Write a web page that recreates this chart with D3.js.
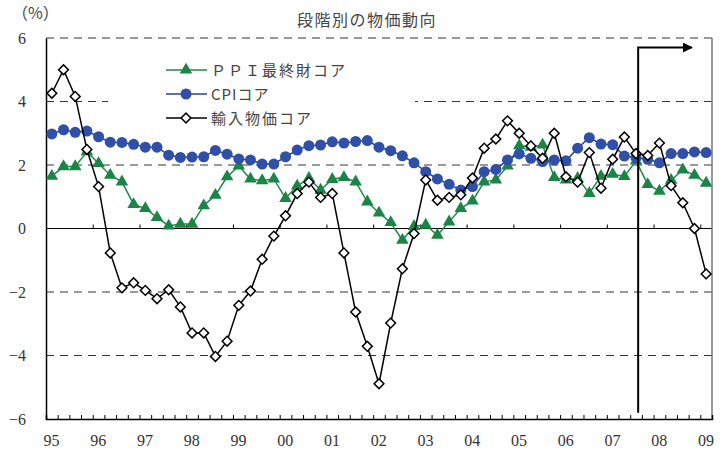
<!DOCTYPE html>
<html lang="ja">
<head>
<meta charset="UTF-8">
<title>段階別の物価動向</title>
<script src="https://d3js.org/d3.v7.min.js"></script>
<style>
  body { margin: 0; background: #fff; }
  .num { font-family: "Liberation Serif", "DejaVu Serif", serif; font-size: 16px; fill: #333; }
  .jp { font-family: "Noto Sans CJK JP", sans-serif; fill: #444; }
</style>
</head>
<body>
<div id="chart"></div>
<script>
// 四半期データ 1995Q1 - 2009Q1 (前年比, %)
const startYear = 1995;
const ppiCore = [1.65, 1.95, 1.95, 2.42, 2.05, 1.68, 1.47, 0.76, 0.63, 0.35,
                 0.08, 0.14, 0.14, 0.72, 1.05, 1.63, 1.97, 1.56, 1.51, 1.56,
                 0.95, 1.34, 1.58, 1.21, 1.55, 1.61, 1.47, 0.84, 0.49, 0.19,
                 -0.37, 0.07, 0.11, -0.21, 0.21, 0.63, 0.87, 1.47, 1.53, 1.97,
                 2.61, 2.56, 2.63, 1.61, 1.53, 1.58, 1.11, 1.65, 1.71, 1.64,
                 2.13, 1.39, 1.18, 1.52, 1.85, 1.68, 1.43];
const cpiCore = [2.98, 3.11, 3.03, 3.07, 2.89, 2.72, 2.71, 2.65, 2.56, 2.56,
                 2.31, 2.24, 2.25, 2.26, 2.46, 2.34, 2.19, 2.16, 2.03, 2.03,
                 2.26, 2.47, 2.61, 2.63, 2.73, 2.69, 2.74, 2.77, 2.56, 2.45,
                 2.29, 2.07, 1.79, 1.56, 1.39, 1.21, 1.32, 1.79, 1.86, 2.16,
                 2.35, 2.21, 2.11, 2.16, 2.13, 2.53, 2.86, 2.66, 2.64, 2.28,
                 2.23, 2.18, 2.07, 2.36, 2.36, 2.41, 2.39];
const importCore = [4.26, 5.0, 4.16, 2.49, 1.32, -0.77, -1.87, -1.71, -1.95, -2.21,
                    -1.93, -2.47, -3.29, -3.29, -4.03, -3.55, -2.42, -1.97, -0.97, -0.24,
                    0.40, 1.10, 1.46, 0.98, 1.10, -0.77, -2.63, -3.71, -4.89, -2.98,
                    -1.27, -0.16, 1.53, 0.89, 0.98, 1.06, 1.59, 2.53, 2.82, 3.39,
                    3.0, 2.6, 2.21, 3.0, 1.63, 1.46, 2.39, 1.27, 2.18, 2.88,
                    2.36, 2.30, 2.69, 1.35, 0.81, 0.0, -1.43];
const yearLabels = ["95", "96", "97", "98", "99", "00", "01", "02", "03", "04", "05", "06", "07", "08", "09"];
const yTicks = [-6, -4, -2, 0, 2, 4, 6];
const seriesNames = ["ＰＰＩ最終財コア", "CPIコア", "輸入物価コア"];
const splitYear = 2007.67;   // 縦線の位置
const arrowEnd = 2008.82;

const width = 723, height = 450;
const svg = d3.select("#chart").append("svg")
    .attr("width", width).attr("height", height);

const x = d3.scaleLinear().domain([startYear, 2009.25]).range([46, 712]);
const y = d3.scaleLinear().domain([-6, 6]).range([419, 38]);
const qx = i => x(startYear + (i + 0.5) / 4);

// グリッド
svg.append("g").selectAll("line")
    .data(yTicks.filter(d => d !== -6))
    .join("line")
    .attr("x1", x.range()[0]).attr("x2", x.range()[1])
    .attr("y1", d => y(d)).attr("y2", d => y(d))
    .attr("stroke", d => d === 0 ? "#000" : "#333")
    .attr("stroke-width", d => d === 0 ? 1.2 : 1)
    .attr("stroke-dasharray", d => d === 0 ? null : "8,6");

// 右枠
svg.append("line")
    .attr("x1", x.range()[1]).attr("x2", x.range()[1])
    .attr("y1", y(6)).attr("y2", y(-6))
    .attr("stroke", "#777").attr("stroke-width", 1.5);

// 軸
const yAxis = svg.append("g")
    .attr("transform", `translate(${x.range()[0]},0)`)
    .call(d3.axisLeft(y).tickValues(yTicks).tickSize(0).tickPadding(20)
        .tickFormat(d => d < 0 ? "\u2212" + Math.abs(d) : d));
yAxis.select(".domain").attr("stroke", "#000").attr("stroke-width", 1.5);
yAxis.selectAll("text").attr("class", "num").attr("font-size", null).attr("font-family", null);

const quarterTicks = d3.range(1, 57).map(i => startYear + i / 4);
const xAxis = svg.append("g")
    .attr("transform", `translate(0,${y(-6)})`)
    .call(d3.axisBottom(x).tickValues(quarterTicks).tickSize(-4).tickFormat(""));
xAxis.select(".domain").attr("stroke", "#000").attr("stroke-width", 1.5);
xAxis.selectAll(".tick line").attr("stroke", "#000");

// ゼロ線上の年目盛
const zeroAxis = svg.append("g")
    .attr("transform", `translate(0,${y(0)})`)
    .call(d3.axisBottom(x).tickValues(d3.range(1996, 2010)).tickSize(-4).tickFormat(""));
zeroAxis.select(".domain").remove();
zeroAxis.selectAll(".tick line").attr("stroke", "#000");

svg.append("g").selectAll("text")
    .data(yearLabels)
    .join("text")
    .attr("class", "num")
    .attr("text-anchor", "middle")
    .attr("x", (d, i) => x(startYear + i + 0.12))
    .attr("y", 446)
    .text(d => d);

// 単位とタイトル
svg.append("text").attr("class", "jp").attr("x", 12).attr("y", 19)
    .attr("font-size", 16).text("（%）");
svg.append("text").attr("class", "jp").attr("x", 367).attr("y", 26)
    .attr("text-anchor", "middle").attr("font-size", 16).attr("letter-spacing", 1.5)
    .text("段階別の物価動向");

// 凡例の背景
svg.append("rect").attr("x", 108).attr("y", 56).attr("width", 307).attr("height", 74)
    .attr("fill", "#fff");

// 系列
const line = d3.line().x((d, i) => qx(i)).y(d => y(d));
const triangle = d3.symbol().type(d3.symbolTriangle).size(68);
const square = d3.symbol().type(d3.symbolSquare).size(48);

svg.append("path").datum(ppiCore).attr("d", line)
    .attr("fill", "none").attr("stroke", "#1f8a48").attr("stroke-width", 1.5);
svg.append("g").selectAll("path").data(ppiCore).join("path")
    .attr("d", triangle)
    .attr("transform", (d, i) => `translate(${qx(i)},${y(d)})`)
    .attr("fill", "#1a8546");

svg.append("path").datum(cpiCore).attr("d", line)
    .attr("fill", "none").attr("stroke", "#2c3f94").attr("stroke-width", 1.5);
svg.append("g").selectAll("circle").data(cpiCore).join("circle")
    .attr("cx", (d, i) => qx(i)).attr("cy", d => y(d)).attr("r", 5.5)
    .attr("fill", "#2f4fa8");

svg.append("path").datum(importCore).attr("d", line)
    .attr("fill", "none").attr("stroke", "#000").attr("stroke-width", 1.5);
svg.append("g").selectAll("path").data(importCore).join("path")
    .attr("d", square)
    .attr("transform", (d, i) => `translate(${qx(i)},${y(d)}) rotate(45)`)
    .attr("fill", "#fff").attr("stroke", "#000").attr("stroke-width", 1.5);

// 縦線と矢印
svg.append("defs").append("marker")
    .attr("id", "arrow").attr("viewBox", "0 0 10 10")
    .attr("refX", 9).attr("refY", 5)
    .attr("markerWidth", 5).attr("markerHeight", 5)
    .attr("orient", "auto")
    .append("path").attr("d", "M0,0 L10,5 L0,10 z").attr("fill", "#000");
svg.append("path")
    .attr("d", `M${x(splitYear)},${y(-5.8)} V${y(5.7)} H${x(arrowEnd)}`)
    .attr("fill", "none").attr("stroke", "#000").attr("stroke-width", 2)
    .attr("marker-end", "url(#arrow)");

// 凡例
const legendY = [70, 94, 118];
const legend = svg.append("g");
legendY.forEach((ly, k) => {
    const color = ["#1f8a48", "#2c3f94", "#000"][k];
    legend.append("line").attr("x1", 166).attr("x2", 207).attr("y1", ly).attr("y2", ly)
        .attr("stroke", color).attr("stroke-width", 1.5);
    if (k === 0) {
        legend.append("path").attr("d", triangle)
            .attr("transform", `translate(186,${ly})`).attr("fill", "#1a8546");
    } else if (k === 1) {
        legend.append("circle").attr("cx", 186).attr("cy", ly).attr("r", 5.5).attr("fill", "#2f4fa8");
    } else {
        legend.append("path").attr("d", square)
            .attr("transform", `translate(186,${ly}) rotate(45)`)
            .attr("fill", "#fff").attr("stroke", "#000").attr("stroke-width", 1.5);
    }
    legend.append("text").attr("class", "jp")
        .attr("x", 211).attr("y", ly + 6)
        .attr("font-size", 15).attr("letter-spacing", k === 1 ? 1 : 2)
        .text(seriesNames[k]);
});
</script>
</body>
</html>
